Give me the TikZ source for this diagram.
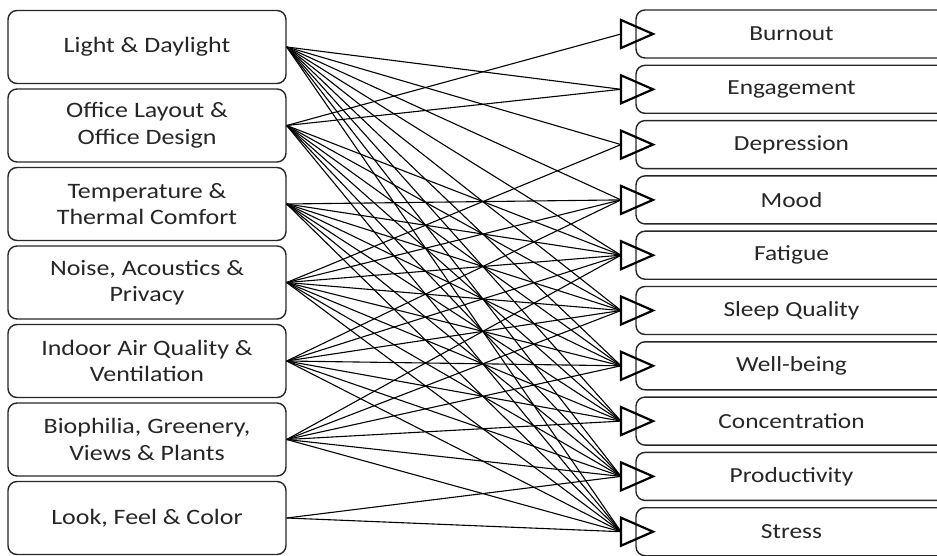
\documentclass[tikz,border=0pt]{standalone}
\usepackage{fontspec}
\setmainfont{Carlito}[FakeStretch=1.18]
\begin{document}
\begin{tikzpicture}[x=1pt,y=-1pt,
  lbox/.style={draw=black!85, rounded corners=9pt, line width=1.4pt, minimum width=278pt, minimum height=73pt, align=center, inner sep=0pt, font=\fontsize{22}{26.5}\selectfont, text=black!85},
  rbox/.style={draw=black!85, rounded corners=9pt, line width=1.4pt, minimum width=311pt, minimum height=48pt, inner sep=0pt, font=\fontsize{21.5}{26}\selectfont, text=black!85},
  link/.style={line width=1.1pt, black},
  tri/.style={line width=2.2pt, black, line join=miter}]
\useasboundingbox (0,0) rectangle (937,556);
\clip (0,0) rectangle (937,556);
% left boxes
\node[lbox] (L1) at (147,47) {Light \& Daylight};
\node[lbox] (L2) at (147,125.5) {Office Layout \&\\Office Design};
\node[lbox] (L3) at (147,204) {Temperature \&\\Thermal Comfort};
\node[lbox] (L4) at (147,282.5) {Noise, Acoustics \&\\Privacy};
\node[lbox] (L5) at (147,361) {Indoor Air Quality \&\\Ventilation};
\node[lbox] (L6) at (147,439.5) {Biophilia, Greenery,\\Views \& Plants};
\node[lbox] (L7) at (147,518) {Look, Feel \& Color};
% right boxes
\foreach \n/\t [count=\i from 0] in {R1/Burnout,R2/Engagement,R3/Depression,R4/Mood,R5/Fatigue,R6/Sleep Quality,R7/Well-being,R8/Concentration,R9/Productivity,R10/Stress}{
  \node[rbox] (\n) at (791.5,34+55.3*\i) {\t};
  \coordinate (\n a) at (621,34+55.3*\i);
  \draw[tri] (621,34+55.3*\i-14) -- (653,34+55.3*\i) -- (621,34+55.3*\i+14) -- cycle;
}
% connectors
\foreach \s/\tl in {
  L1/{R2,R3,R4,R5,R6,R7,R8,R9,R10},
  L2/{R1,R2,R5,R6,R7,R8,R9,R10},
  L3/{R4,R5,R6,R7,R8,R9,R10},
  L4/{R3,R4,R5,R6,R7,R8,R9,R10},
  L5/{R4,R5,R6,R7,R8,R9,R10},
  L6/{R5,R6,R7,R8,R9,R10},
  L7/{R9,R10}}{
  \foreach \t in \tl { \draw[link] (\s.east) -- (\t a); }
}
\end{tikzpicture}
\end{document}
